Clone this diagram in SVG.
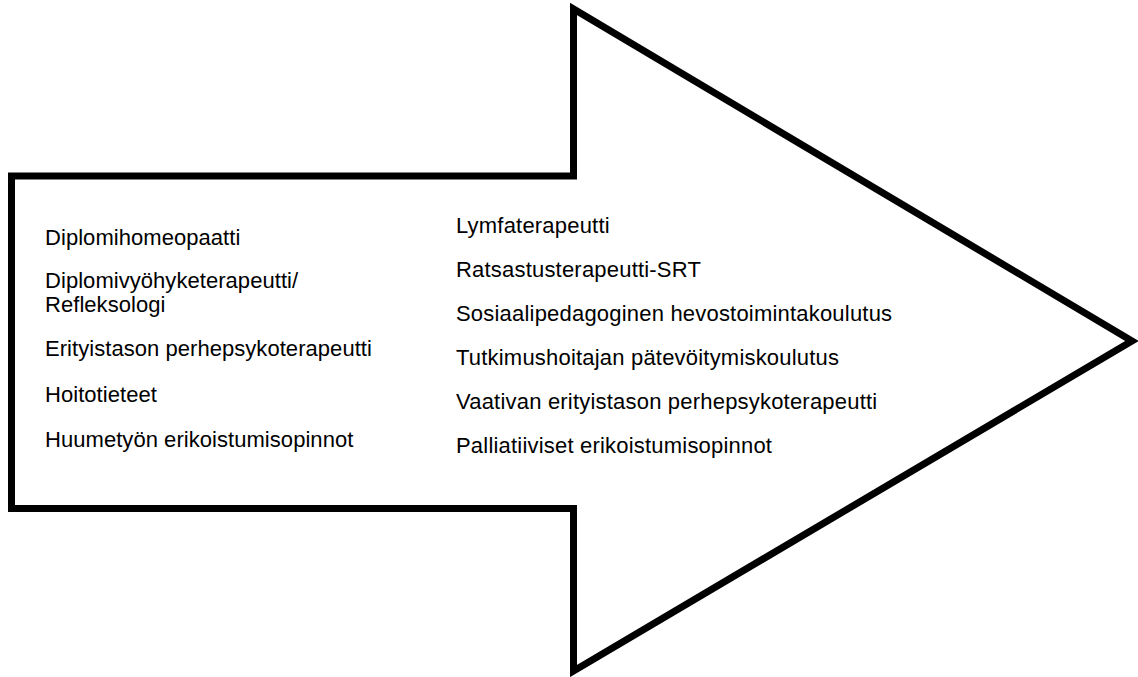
<svg xmlns="http://www.w3.org/2000/svg" width="1138" height="677" viewBox="0 0 1138 677">
<style>
.arrow{fill:#ffffff;stroke:#000000;stroke-width:7;stroke-linejoin:miter;stroke-miterlimit:10}
.t{font-family:"Liberation Sans",Arial,sans-serif;font-size:22px;letter-spacing:0.2px;fill:#000000}
.l{letter-spacing:0.05px}
</style>
<rect width="1138" height="677" fill="#ffffff"/>
<g id="arrow">
<polygon class="arrow" points="11.5,176 573.5,176 573.5,9 1132,341 573.5,671 573.5,508.5 11.5,508.5"/>
</g>
<g id="left-list">
<text class="t l" x="45" y="245">Diplomihomeopaatti</text>
<text class="t l" x="45" y="288">Diplomivyöhyketerapeutti/</text>
<text class="t l" x="45" y="312">Refleksologi</text>
<text class="t l" x="45" y="356">Erityistason perhepsykoterapeutti</text>
<text class="t l" x="45" y="402">Hoitotieteet</text>
<text class="t l" x="45" y="447">Huumetyön erikoistumisopinnot</text>
</g>
<g id="right-list">
<text class="t" x="456" y="233">Lymfaterapeutti</text>
<text class="t" x="456" y="277">Ratsastusterapeutti-SRT</text>
<text class="t" x="456" y="321">Sosiaalipedagoginen hevostoimintakoulutus</text>
<text class="t" x="456" y="365">Tutkimushoitajan pätevöitymiskoulutus</text>
<text class="t" x="456" y="409">Vaativan erityistason perhepsykoterapeutti</text>
<text class="t" x="456" y="453">Palliatiiviset erikoistumisopinnot</text>
</g>
</svg>
